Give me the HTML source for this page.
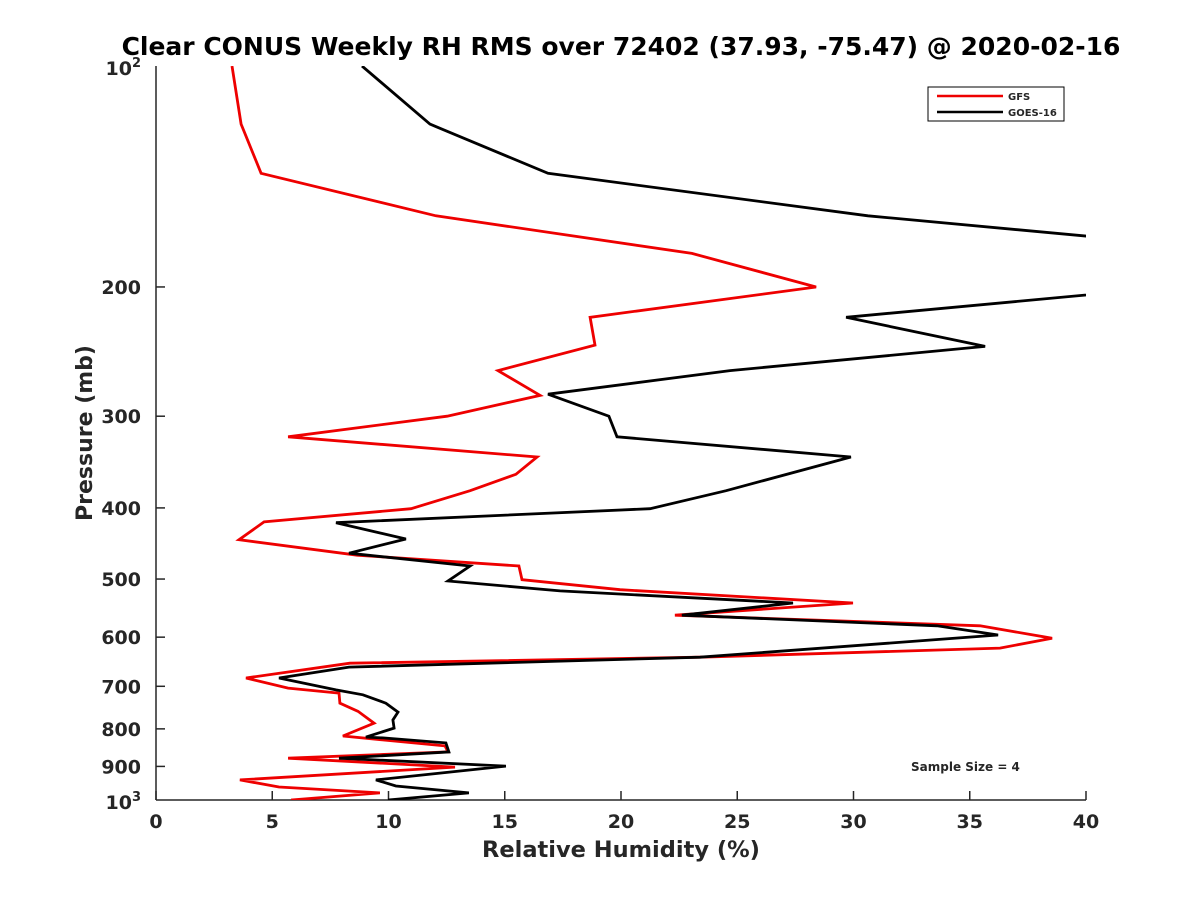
<!DOCTYPE html>
<html><head><meta charset="utf-8"><style>
body{margin:0;background:#fff;}
svg text{font-family:"DejaVu Sans","Liberation Sans",sans-serif;font-weight:bold;fill:#262626;}
</style></head><body>
<svg id="c" width="1200" height="900">
<defs><clipPath id="plotclip"><rect x="156" y="66" width="930" height="734"/></clipPath></defs>
<rect width="1200" height="900" fill="#fff"/>
<text x="621" y="55" font-size="25" text-anchor="middle" style="fill:#000">Clear CONUS Weekly RH RMS over 72402 (37.93, -75.47) @ 2020-02-16</text>
<g id="axes"></g>
<g id="series" clip-path="url(#plotclip)"></g>
<text x="621" y="857" font-size="22.5" text-anchor="middle">Relative Humidity (%)</text>
<text transform="translate(92,433) rotate(-90)" font-size="22" text-anchor="middle">Pressure (mb)</text>
<g>
<rect x="928" y="87" width="136" height="34" fill="#fff" stroke="#000" stroke-width="1"/>
<line x1="937" y1="96" x2="1003" y2="96" stroke="#e00" stroke-width="2.5"/>
<text x="1008" y="100" font-size="10">GFS</text>
<line x1="937" y1="112" x2="1003" y2="112" stroke="#000" stroke-width="2.5"/>
<text x="1008" y="116" font-size="10">GOES-16</text>
</g>
<text x="911" y="771" font-size="12">Sample Size = 4</text>
</svg>
<script>
const xTicks=[0,5,10,15,20,25,30,35,40];
const yTicks=[200,300,400,500,600,700,800,900];
const gfsRH=[3.27,3.66,4.52,12.04,23.05,28.39,18.67,18.88,14.71,16.52,12.52,5.68,16.39,15.48,13.51,10.97,4.65,3.57,8.65,15.61,15.74,19.96,29.98,22.32,35.44,38.54,36.30,23.4,8.34,3.87,5.68,7.87,7.91,8.69,9.38,8.04,12.43,12.56,5.68,12.86,3.61,5.29,9.63,5.81];
const gfsP=[100,120,140,160,180,200,220,240,260,281,300,320,341,360,379,401,418,442,464,480,501,517,539,560,579,602,621,639,651,682,704,715,738,757,786,818,844,860,877,902,939,960,978,1000];
const goesRH=[8.86,11.78,16.86,30.62,48,43.7,29.68,35.66,24.69,16.86,19.48,19.83,29.89,24.52,21.25,7.74,10.75,8.3,13.51,12.56,17.38,27.4,22.62,33.59,36.22,23.4,8.3,5.29,7.74,8.9,9.89,10.41,10.19,10.24,9.03,9.76,12.47,12.6,7.87,15.05,9.46,10.32,13.46,9.98];
const goesP=[100,120,140,160,180,200,220,241,260,280,300,320,341,379,401,419,441,461,480,503,519,539,560,579,596,639,659,682,708,719,738,759,778,798,821,823,836,860,877,899,939,957,978,1000];
const L=156,R=1086,T=66,B=800;
function xs(v){return L+(v/40)*(R-L);}
function ys(p){return T+(Math.log10(p)-2)*(B-T);}
const NS="http://www.w3.org/2000/svg";
const ax=document.getElementById('axes'),sg=document.getElementById('series');
function mk(tag,at,parent){const e=document.createElementNS(NS,tag);for(const k in at)e.setAttribute(k,at[k]);parent.appendChild(e);return e;}
const a1=mk('line',{x1:L,y1:T,x2:L,y2:B,stroke:'#262626','stroke-width':1.5},ax);


const a2=mk('line',{x1:L,y1:B,x2:R,y2:B,stroke:'#262626','stroke-width':1.5},ax);


xTicks.forEach(v=>{
 mk('line',{x1:xs(v),y1:B,x2:xs(v),y2:B-9,stroke:'#262626','stroke-width':1.5},ax);
 const t=mk('text',{x:xs(v),y:B+28,'font-size':19,'text-anchor':'middle'},ax);t.textContent=v;
 
 
});
yTicks.forEach(p=>{
 mk('line',{x1:L,y1:ys(p),x2:L+9,y2:ys(p),stroke:'#262626','stroke-width':1.5},ax);
 const t=mk('text',{x:L-15,y:ys(p)+7,'font-size':19,'text-anchor':'end'},ax);t.textContent=p;
 
 
});
[[100,'2'],[1000,'3']].forEach(([p,e])=>{
 const t=mk('text',{x:L-15,y:ys(p)+9,'font-size':19,'text-anchor':'end'},ax);
 t.innerHTML='10<tspan dy="-8" font-size="13">'+e+'</tspan>';
 
 
});
function line(rh,p,col,name){
 const d=rh.map((v,i)=>(i?'L':'M')+xs(v).toFixed(1)+','+ys(p[i]).toFixed(1)).join('');
 const e=mk('path',{d:d,fill:'none',stroke:col,'stroke-width':2.8,'stroke-linejoin':'miter'},sg);
 
 
}
line(gfsRH,gfsP,'#e00','gfs-line');
line(goesRH,goesP,'#000','goes16-line');
</script>
</body></html>
